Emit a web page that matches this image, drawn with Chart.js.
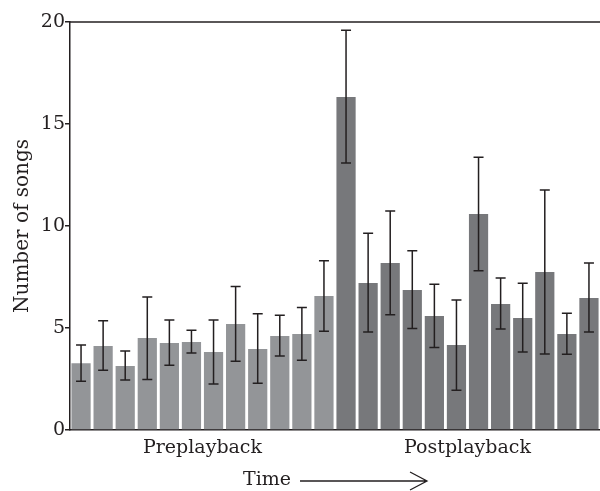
<!DOCTYPE html>
<html>
<head>
<meta charset="utf-8">
<script src="https://cdn.jsdelivr.net/npm/chart.js@4/dist/chart.umd.min.js"></script>
<style>
  html, body { margin: 0; padding: 0; background: #fff; }
  #wrap { width: 600px; height: 491px; }
</style>
</head>
<body>
<div id="wrap"><canvas id="songChart"></canvas></div>
<script>
// group labels shown under the x axis
const groupLabels = ["Preplayback", "Postplayback"];

// mean number of songs per time block
const preMeans = [3.27, 4.12, 3.14, 4.51, 4.26, 4.31, 3.82, 5.2, 3.97, 4.61, 4.71, 6.57];
const postMeans = [16.32, 7.21, 8.19, 6.86, 5.59, 4.17, 10.59, 6.18, 5.49, 7.75, 4.71, 6.47];

// error bar ends
const preHigh = [4.17, 5.36, 3.87, 6.52, 5.39, 4.89, 5.39, 7.04, 5.70, 5.62, 6.01, 8.30];
const preLow = [2.39, 2.93, 2.45, 2.48, 3.17, 3.77, 2.25, 3.37, 2.29, 3.63, 3.42, 4.84];
const postHigh = [19.6, 9.64, 10.74, 8.79, 7.14, 6.37, 13.37, 7.45, 7.19, 11.76, 5.72, 8.19];
const postLow = [13.09, 4.80, 5.65, 4.98, 4.05, 1.95, 7.81, 4.95, 3.82, 3.73, 3.71, 4.80];

const yTicks = [0, 5, 10, 15, 20];

const ink = "#231f20";
const serif = "'DejaVu Serif', serif";

const means = preMeans.concat(postMeans);
const errHigh = preHigh.concat(postHigh);
const errLow = preLow.concat(postLow);
const labels = means.map((v, i) => (i < preMeans.length ? "pre" : "post") + (i + 1));
const colors = means.map((v, i) => (i < preMeans.length ? "#939598" : "#77787b"));

// error bars + top frame line + "Time ->" label
const extras = {
  id: "extras",
  afterDatasetsDraw(chart) {
    const ctx = chart.ctx;
    const y = chart.scales.y;
    const bars = chart.getDatasetMeta(0).data;
    ctx.save();
    ctx.strokeStyle = ink;
    ctx.lineWidth = 1.5;
    bars.forEach((bar, i) => {
      const yh = y.getPixelForValue(errHigh[i]);
      const yl = y.getPixelForValue(errLow[i]);
      ctx.beginPath();
      ctx.moveTo(bar.x, yh);
      ctx.lineTo(bar.x, yl);
      ctx.moveTo(bar.x - 5, yh);
      ctx.lineTo(bar.x + 5, yh);
      ctx.moveTo(bar.x - 5, yl);
      ctx.lineTo(bar.x + 5, yl);
      ctx.stroke();
    });
    ctx.restore();
  },
  afterDraw(chart) {
    const ctx = chart.ctx;
    const area = chart.chartArea;
    ctx.save();
    ctx.strokeStyle = ink;
    ctx.lineWidth = 1.5;
    ctx.beginPath();
    ctx.moveTo(area.left, area.top);
    ctx.lineTo(area.right, area.top);
    ctx.stroke();

    // Time arrow
    ctx.font = "19px " + serif;
    ctx.fillStyle = ink;
    ctx.textBaseline = "middle";
    const txt = "Time";
    const tw = ctx.measureText(txt).width;
    const gap = 9, arrowLen = 127;
    const total = tw + gap + arrowLen;
    const x0 = (area.left + area.right) / 2 - total / 2;
    const ty = area.bottom + 50;
    ctx.fillText(txt, x0, ty);
    const ax = x0 + tw + gap;
    ctx.lineWidth = 1.3;
    ctx.beginPath();
    ctx.moveTo(ax, ty + 1);
    ctx.lineTo(ax + arrowLen, ty + 1);
    ctx.moveTo(ax + arrowLen - 17, ty - 8);
    ctx.lineTo(ax + arrowLen, ty + 1);
    ctx.lineTo(ax + arrowLen - 17, ty + 10);
    ctx.stroke();
    ctx.restore();
  }
};

new Chart(document.getElementById("songChart"), {
  type: "bar",
  data: {
    labels: labels,
    datasets: [{
      data: means,
      backgroundColor: colors,
      borderWidth: 0,
      barPercentage: 0.87,
      categoryPercentage: 1.0
    }]
  },
  options: {
    responsive: true,
    maintainAspectRatio: false,
    animation: false,
    layout: { padding: { top: 22, right: 0, bottom: 0, left: 0 } },
    plugins: { legend: { display: false }, tooltip: { enabled: false } },
    scales: {
      x: {
        grid: { display: false },
        border: { display: true, color: ink, width: 1.5 },
        ticks: { display: false },
        afterFit: (axis) => { axis.height = 0; }
      },
      x2: {
        type: "category",
        labels: groupLabels,
        position: "bottom",
        offset: true,
        grid: { display: false, drawTicks: false },
        border: { display: false },
        ticks: { color: ink, font: { family: serif, size: 19 }, padding: 7 },
        afterFit: (axis) => { axis.height = 61; }
      },
      y: {
        min: 0,
        max: 20,
        afterBuildTicks: (axis) => { axis.ticks = yTicks.map(v => ({ value: v })); },
        grid: { drawOnChartArea: false, drawTicks: true, tickLength: 5, color: ink, lineWidth: 1.5 },
        border: { display: true, color: ink, width: 1.5 },
        ticks: { color: ink, font: { family: serif, size: 19 }, padding: 0 },
        title: { display: true, text: "Number of songs", color: ink, font: { family: serif, size: 20 }, padding: { top: 11, bottom: 4 } },
        afterFit: (axis) => { axis.width = 70; }
      }
    }
  },
  plugins: [extras]
});
</script>
</body>
</html>
